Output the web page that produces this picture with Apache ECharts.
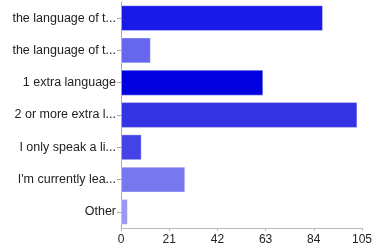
<!DOCTYPE html>
<html>
<head>
<meta charset="utf-8">
<script src="https://cdn.jsdelivr.net/npm/echarts@6/dist/echarts.min.js"></script>
<style>
    html, body { margin: 0; padding: 0; background: #fff; }
    #chart { width: 375px; height: 249px; }
</style>
</head>
<body>
<div id="chart"></div>
<script>
const categories = [
    'the language of t...',
    'the language of t...',
    '1 extra language',
    '2 or more extra l...',
    'I only speak a li...',
    "I'm currently lea...",
    'Other'
]
const counts = [88, 13, 62, 103, 9, 28, 3]
const barColors = ['#1a1ae8', '#6666ee', '#0000e0', '#3333e3', '#4444e6', '#7777ee', '#9999f2']
const xTicks = [0, 21, 42, 63, 84, 105]

const chart = echarts.init(document.getElementById('chart'))
chart.setOption({
    animation: false,
    grid: { left: 121, right: 11, top: 2, bottom: 21, containLabel: false },
    xAxis: {
        type: 'value',
        min: xTicks[0],
        max: xTicks[xTicks.length - 1],
        interval: xTicks[1] - xTicks[0],
        axisLine: { show: true, lineStyle: { color: '#bbb', width: 1 } },
        axisTick: { show: true, length: 3, lineStyle: { color: '#bbb' } },
        splitLine: { show: false },
        axisLabel: { color: '#222', fontSize: 12, fontFamily: 'Liberation Sans', margin: 6 }
    },
    yAxis: {
        type: 'category',
        inverse: true,
        data: categories,
        axisLine: { show: true, lineStyle: { color: '#aaa', width: 1 } },
        axisTick: { show: true, alignWithLabel: true, length: 4, lineStyle: { color: '#aaa' } },
        axisLabel: { color: '#222', fontSize: 12.5, fontFamily: 'Liberation Sans', margin: 5 }
    },
    series: [{
        type: 'bar',
        barCategoryGap: '20%',
        data: counts.map((v, i) => ({
            value: v,
            itemStyle: {
                color: barColors[i],
                borderColor: 'rgba(255,255,255,0.35)',
                borderWidth: 1
            }
        }))
    }]
})
</script>
</body>
</html>
